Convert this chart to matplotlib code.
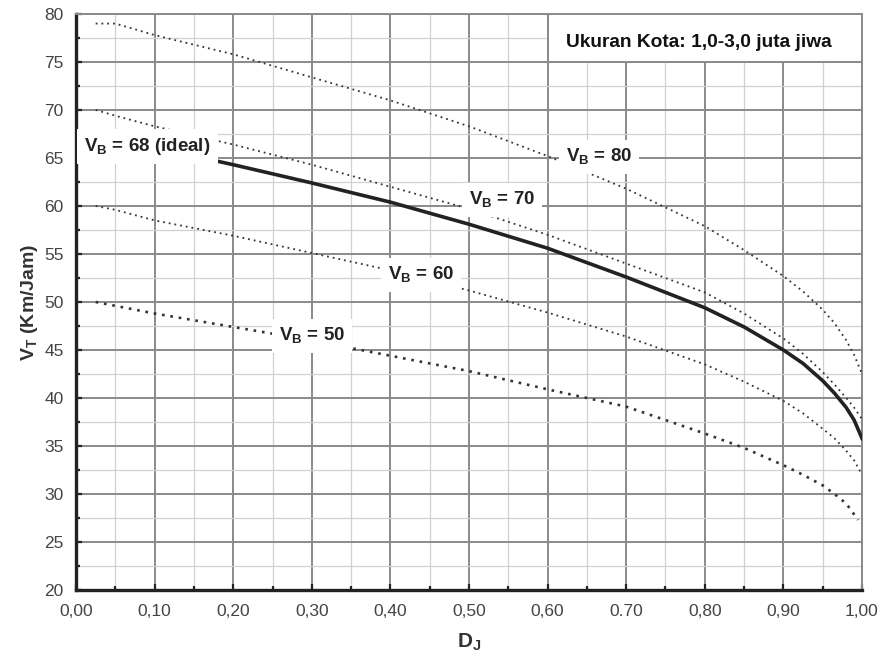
import matplotlib
matplotlib.use("Agg")
import matplotlib.pyplot as plt
from matplotlib.ticker import MultipleLocator, FixedLocator, FixedFormatter
from matplotlib.patches import Rectangle

plt.rcParams['font.family'] = ['Liberation Sans', 'DejaVu Sans']
plt.rcParams['mathtext.fontset'] = 'custom'
plt.rcParams['mathtext.rm'] = 'Liberation Sans:bold'
plt.rcParams['mathtext.bf'] = 'Liberation Sans:bold'

# ---- data ----
x_dj = [0.025, 0.05, 0.10, 0.20, 0.30, 0.40, 0.50, 0.60, 0.70, 0.80, 0.85, 0.90,
        0.925, 0.95, 0.965, 0.98, 0.99, 1.00]
vb80 = [79.0, 79.0, 77.8, 75.8, 73.4, 71.0, 68.3, 65.2, 61.8, 57.9, 55.4, 52.7,
        51.1, 49.2, 47.8, 46.0, 44.5, 42.5]
vb70 = [70.0, 69.4, 68.3, 66.4, 64.3, 62.0, 59.7, 57.0, 54.0, 51.0, 48.8, 46.2,
        44.6, 42.7, 41.4, 40.0, 39.0, 37.8]
vb68 = [67.6, 67.2, 66.1, 64.3, 62.4, 60.4, 58.1, 55.6, 52.6, 49.4, 47.4, 45.0,
        43.6, 41.8, 40.5, 39.0, 37.7, 35.8]
vb60 = [60.0, 59.6, 58.5, 56.9, 55.1, 53.3, 51.2, 48.9, 46.4, 43.5, 41.7, 39.7,
        38.4, 36.8, 35.8, 34.5, 33.5, 32.0]
x_50 = [0.025, 0.05, 0.10, 0.20, 0.30, 0.40, 0.50, 0.60, 0.70, 0.80, 0.85, 0.90,
        0.925, 0.95, 0.965, 0.98, 0.995]
vb50 = [50.0, 49.6, 48.8, 47.4, 46.0, 44.4, 42.8, 40.9, 39.1, 36.3, 34.8, 33.0,
        32.0, 30.9, 30.0, 29.0, 27.3]

x_ticks = [0.0, 0.1, 0.2, 0.3, 0.4, 0.5, 0.6, 0.7, 0.8, 0.9, 1.0]
x_tick_labels = ['0,00', '0,10', '0,20', '0,30', '0,40', '0,50', '0,60', '0.70', '0,80', '0,90', '1,00']
y_ticks = [20, 25, 30, 35, 40, 45, 50, 55, 60, 65, 70, 75, 80]

fig = plt.figure(figsize=(8.82, 6.56), dpi=100)
ax = fig.add_axes([0.0862, 0.1006, 0.8911, 0.8781])
ax.set_xlim(0, 1.0)
ax.set_ylim(20, 80)

# grid
ax.xaxis.set_major_locator(FixedLocator(x_ticks))
ax.xaxis.set_major_formatter(FixedFormatter(x_tick_labels))
ax.xaxis.set_minor_locator(MultipleLocator(0.05))
ax.yaxis.set_major_locator(FixedLocator(y_ticks))
ax.yaxis.set_minor_locator(MultipleLocator(2.5))
ax.grid(which='major', color='#8a8a8a', linewidth=1.4)
ax.grid(which='minor', color='#d0d0d0', linewidth=0.9)
ax.set_axisbelow(True)

dot = (0, (1, 2.2))
ax.plot(x_dj, vb80, color='#333333', linewidth=1.3, linestyle=dot, zorder=3)
ax.plot(x_dj, vb70, color='#333333', linewidth=1.3, linestyle=dot, zorder=3)
ax.plot(x_dj, vb68, color='#222222', linewidth=2.6, linestyle='-', zorder=3)
ax.plot(x_dj, vb60, color='#333333', linewidth=1.3, linestyle=dot, zorder=3)
ax.plot(x_50, vb50, color='#333333', linewidth=1.9, linestyle=dot, zorder=3)

lbl = dict(fontsize=13.5, fontweight='bold', color='#222222', ha='center', va='center', zorder=5,
           bbox=dict(facecolor='white', edgecolor='none', pad=5))
ax.text(0.091, 66.2, r'V$_\mathregular{B}$ = 68 (ideal)', **lbl)
ax.text(0.665, 65.1, r'V$_\mathregular{B}$ = 80', **lbl)
ax.text(0.542, 60.6, r'V$_\mathregular{B}$ = 70', **lbl)
ax.text(0.439, 52.8, r'V$_\mathregular{B}$ = 60', **lbl)
ax.text(0.300, 46.5, r'V$_\mathregular{B}$ = 50', **lbl)

ax.add_patch(Rectangle((0.60, 75), 0.40, 5, facecolor='white', edgecolor='#8a8a8a',
                       linewidth=1.4, zorder=4))
ax.text(0.793, 77.0, 'Ukuran Kota: 1,0-3,0 juta jiwa', fontsize=13.8, fontweight='bold',
        color='#111111', ha='center', va='center', zorder=5)

# spines
for s in ['left', 'bottom']:
    ax.spines[s].set_linewidth(2.4)
    ax.spines[s].set_color('#222222')
for s in ['top', 'right']:
    ax.spines[s].set_linewidth(1.4)
    ax.spines[s].set_color('#8a8a8a')

ax.tick_params(which='both', direction='in', color='#222222', width=1.6)
ax.tick_params(which='major', length=4, labelsize=12.5, labelcolor='#444444')
ax.tick_params(axis='x', which='major', pad=10)
ax.tick_params(axis='y', which='major', pad=9)
ax.tick_params(which='minor', length=3)
ax.tick_params(top=False, right=False, which='both')

ax.set_xlabel(r'D$_\mathregular{J}$', fontsize=15, fontweight='bold', color='#333333', labelpad=9)
ax.set_ylabel(r'V$_\mathregular{T}$ (Km/Jam)', fontsize=14, fontweight='bold', color='#333333', labelpad=3)

fig.savefig('out.png', dpi=100, facecolor='white')
